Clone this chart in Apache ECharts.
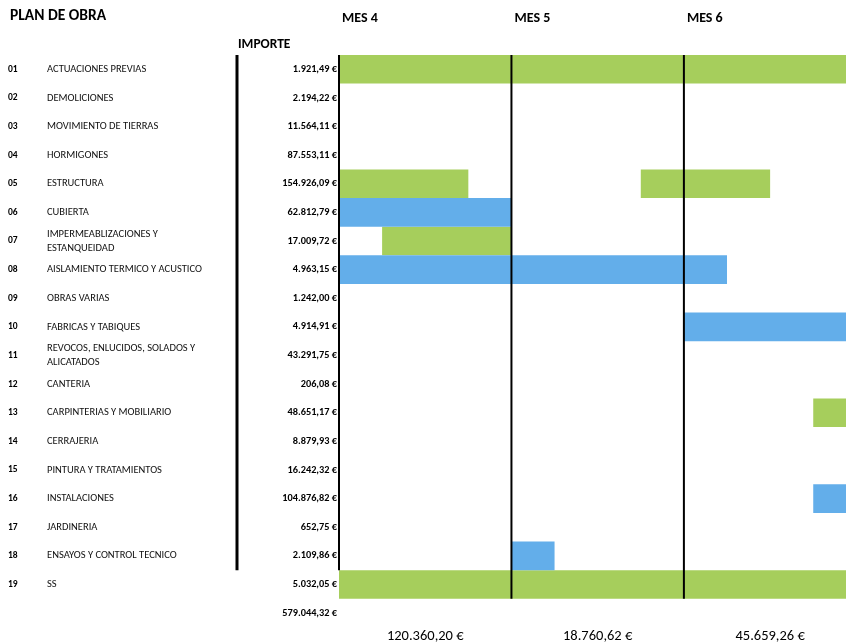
<!DOCTYPE html>
<html><head><meta charset="utf-8">
<script src="https://cdn.jsdelivr.net/npm/echarts@6/dist/echarts.min.js"></script>
<style>html,body{margin:0;padding:0;background:#fff}#c{width:846px;height:644px}</style>
</head><body><div id="c"></div>
<script>
// ---- data ----
const rowNumbers = ['01','02','03','04','05','06','07','08','09','10','11','12','13','14','15','16','17','18','19'];
const rowNames = [
  'ACTUACIONES PREVIAS','DEMOLICIONES','MOVIMIENTO DE TIERRAS','HORMIGONES','ESTRUCTURA','CUBIERTA',
  'IMPERMEABLIZACIONES Y\nESTANQUEIDAD','AISLAMIENTO TERMICO Y ACUSTICO','OBRAS VARIAS','FABRICAS Y TABIQUES',
  'REVOCOS, ENLUCIDOS, SOLADOS Y\nALICATADOS','CANTERIA','CARPINTERIAS Y MOBILIARIO','CERRAJERIA',
  'PINTURA Y TRATAMIENTOS','INSTALACIONES','JARDINERIA','ENSAYOS Y CONTROL TECNICO','SS'
];
const rowAmounts = [
  '1.921,49 €','2.194,22 €','11.564,11 €','87.553,11 €','154.926,09 €','62.812,79 €','17.009,72 €',
  '4.963,15 €','1.242,00 €','4.914,91 €','43.291,75 €','206,08 €','48.651,17 €','8.879,93 €',
  '16.242,32 €','104.876,82 €','652,75 €','2.109,86 €','5.032,05 €'
];
const grandTotal = '579.044,32 €';
const monthLabels = ['MES 4','MES 5','MES 6'];
const monthTotals = ['120.360,20 €','18.760,62 €','45.659,26 €'];
const weeksPerMonth = 4;
const visibleWeeks = 11.76;
// tasks: [rowIndex, startWeek, endWeek]
const greenTasks = [[0,0,12],[4,0,3],[4,7,10],[6,1,4],[12,11,12],[18,0,12]];
const blueTasks  = [[5,0,4],[7,0,9],[9,8,12],[15,11,12],[17,4,5]];
// month dividers: [week, firstRow, lastRow]
const monthDividers = [[0,0,17],[4,0,18],[8,0,18]];
// ---- helpers ----
const GREEN = '#A6CE5C', BLUE = '#63AEEA';
const FONT = 'Carlito, Lato, sans-serif';
const totalRowIndex = rowNumbers.length;      // row holding grand total
const monthTotalRowIndex = rowNumbers.length + 1;
const rowKeys = [];
for (let i = 0; i <= monthTotalRowIndex; i++) rowKeys.push(String(i));
const amountLabels = rowAmounts.concat([grandTotal, '']);
const nameLabels = rowNames.concat(['', '']);
const numberLabels = rowNumbers.concat(['', '']);

function barItem(color) {
  return function (params, api) {
    const r = api.value(0);
    const a = api.coord([api.value(1), r]);
    const b = api.coord([api.value(2), r]);
    const h = api.size([0, 1])[1];
    const cs = params.coordSys;
    const shape = echarts.graphic.clipRectByRect(
      {x: a[0], y: a[1] - h / 2, width: b[0] - a[0], height: h},
      {x: cs.x, y: cs.y, width: cs.width, height: cs.height});
    return shape && {type: 'rect', shape: shape, style: {fill: color}};
  };
}

const chart = echarts.init(document.getElementById('c'), null, {renderer: 'canvas'});
const baseY = {
  type: 'category', inverse: true, data: rowKeys, gridIndex: 0,
  axisLine: {show: false}, axisTick: {show: false}, splitLine: {show: false}
};
chart.setOption({
  animation: false,
  backgroundColor: '#fff',
  title: [
    {text: 'PLAN DE OBRA', left: 10, top: 8, padding: 0,
     textStyle: {fontSize: 15.5, fontWeight: 'bold', color: '#000', fontFamily: FONT}},
    {text: 'IMPORTE', left: 238, top: 38, padding: 0,
     textStyle: {fontSize: 13.5, fontWeight: 'bold', color: '#000', fontFamily: FONT}}
  ],
  grid: {left: 339, right: 0, top: 55, height: 28.62 * (monthTotalRowIndex + 1), containLabel: false, outerBoundsMode: 'none'},
  xAxis: {
    type: 'value', min: 0, max: visibleWeeks, interval: weeksPerMonth, position: 'top',
    axisLine: {show: false}, axisTick: {show: false}, splitLine: {show: false},
    axisLabel: {
      showMaxLabel: false, align: 'left', margin: 30, padding: [0, 0, 0, 3],
      fontSize: 14, fontWeight: 'bold', color: '#000', fontFamily: FONT,
      formatter: function (v) {
        const k = v / weeksPerMonth;
        return (Number.isInteger(k) && k < monthLabels.length) ? monthLabels[k] : '';
      }
    }
  },
  yAxis: [
    Object.assign({}, baseY, {position: 'left', axisLabel: {
      interval: 0, margin: 2, align: 'right', fontSize: 10.3, fontWeight: 'bold', color: '#000', fontFamily: FONT,
      formatter: (v, i) => amountLabels[i]}}),
    Object.assign({}, baseY, {position: 'left', offset: 290, axisLabel: {
      interval: 0, margin: 2, align: 'left', fontSize: 10.5, lineHeight: 14, color: '#111', fontFamily: FONT,
      formatter: (v, i) => nameLabels[i]}}),
    Object.assign({}, baseY, {position: 'left', offset: 329, axisLabel: {
      interval: 0, margin: 2, align: 'left', fontSize: 9.5, fontWeight: 'bold', color: '#000', fontFamily: FONT,
      formatter: (v, i) => numberLabels[i]}})
  ],
  series: [
    {type: 'custom', name: 'green', data: greenTasks, renderItem: barItem(GREEN),
     encode: {x: [1, 2], y: 0}, yAxisIndex: 0, z: 2},
    {type: 'custom', name: 'blue', data: blueTasks, renderItem: barItem(BLUE),
     encode: {x: [1, 2], y: 0}, yAxisIndex: 0, z: 2},
    {type: 'custom', name: 'dividers', data: monthDividers, clip: false, yAxisIndex: 0, z: 3,
     encode: {x: 0, y: [1, 2]},
     renderItem: function (params, api) {
       const x = api.value(0);
       const t = api.coord([x, api.value(1)]);
       const b = api.coord([x, api.value(2)]);
       const h = api.size([0, 1])[1];
       return {type: 'line', shape: {x1: t[0], y1: t[1] - h / 2, x2: b[0], y2: b[1] + h / 2},
               style: {stroke: '#000', lineWidth: 2}};
     }},
    {type: 'custom', name: 'tableBorder', data: [[0, 17]], clip: false, yAxisIndex: 0, z: 3,
     encode: {y: [0, 1]},
     renderItem: function (params, api) {
       const t = api.coord([0, api.value(0)]);
       const b = api.coord([0, api.value(1)]);
       const h = api.size([0, 1])[1];
       const x = params.coordSys.x - 102;
       return {type: 'line', shape: {x1: x, y1: t[1] - h / 2, x2: x, y2: b[1] + h / 2},
               style: {stroke: '#000', lineWidth: 3}};
     }},
    {type: 'custom', name: 'monthTotals', clip: false, yAxisIndex: 0, z: 3,
     data: monthTotals.map((_, i) => [i * weeksPerMonth + weeksPerMonth / 2, monthTotalRowIndex]),
     encode: {x: 0, y: 1},
     renderItem: function (params, api) {
       const p = api.coord([api.value(0), api.value(1)]);
       return {type: 'text', x: p[0], y: p[1] - 5,
               style: {text: monthTotals[params.dataIndex], align: 'center', textAlign: 'center',
                       verticalAlign: 'middle', textVerticalAlign: 'middle',
                       font: '14.5px ' + FONT, fill: '#000'}};
     }}
  ]
});
</script>
</body></html>
